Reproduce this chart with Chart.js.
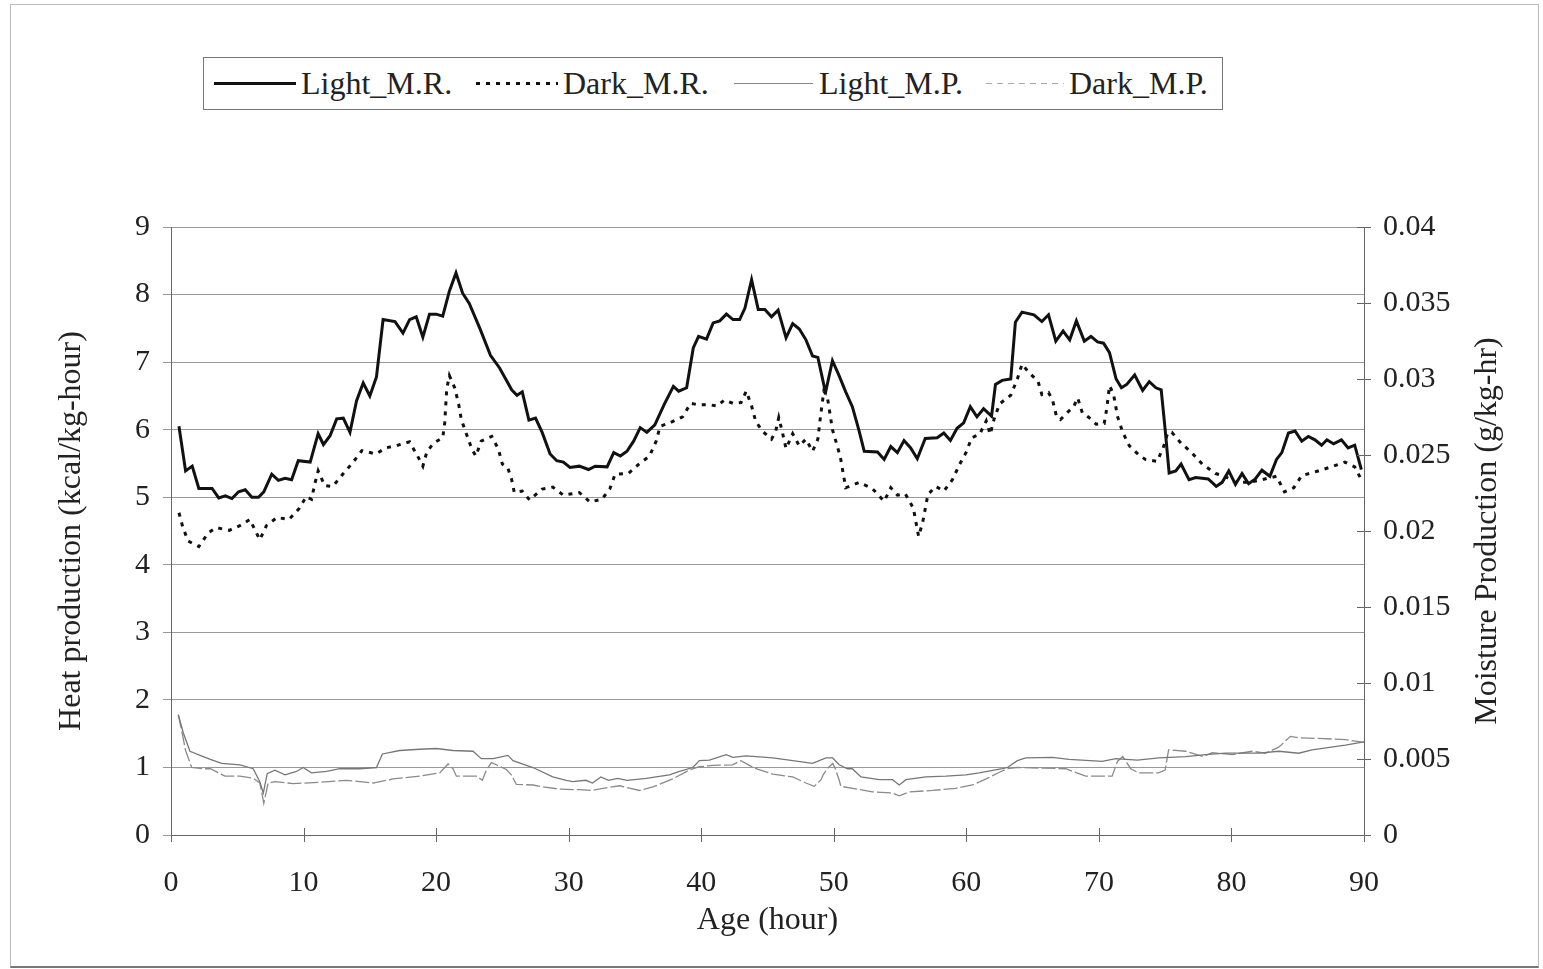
<!DOCTYPE html>
<html>
<head>
<meta charset="utf-8">
<script src="https://cdn.jsdelivr.net/npm/chart.js@4.4.1/dist/chart.umd.min.js"></script>
<style>
  body { margin: 0; background: #fff; }
  #wrap { position: relative; width: 1543px; height: 969px; }
  #frame { position: absolute; left: 10px; top: 4px; width: 1527px; height: 961px; border: 1px solid #bbb; border-bottom: 2px solid #777; }
  #legend { position: absolute; left: 203px; top: 57px; width: 1018px; height: 51px; border: 1px solid #777; background: #fff; }
  .sample { position: absolute; top: 25px; }
  .lbl { position: absolute; top: 6px; font: 32px "Liberation Serif", serif; color: #222; white-space: nowrap; line-height: 38px; }
</style>
</head>
<body>
<div id="wrap">
  <div id="frame"></div>
  <canvas id="myChart" width="1543" height="969"></canvas>
  <div id="legend">
    <div class="sample" style="left:10px;width:82px;height:3px;top:24px;background:#111"></div>
    <div class="lbl" style="left:97px">Light_M.R.</div>
    <div class="sample" style="left:272px;width:82px;height:3px;top:24px;background:repeating-linear-gradient(90deg,#111 0 4px,transparent 4px 10px)"></div>
    <div class="lbl" style="left:359px">Dark_M.R.</div>
    <div class="sample" style="left:530px;width:79px;height:1px;background:#888"></div>
    <div class="lbl" style="left:615px">Light_M.P.</div>
    <div class="sample" style="left:782px;width:78px;height:1px;background:repeating-linear-gradient(90deg,#aaa 0 6px,transparent 6px 11px)"></div>
    <div class="lbl" style="left:865px">Dark_M.P.</div>
  </div>
</div>
<script>
// metabolic rate (kcal/kg-hour), left axis
const lightMRHours = [0.6,1.1,1.6,2.1,3.1,3.6,4.1,4.6,5.1,5.6,6.1,6.6,7.0,7.6,8.1,8.6,9.1,9.6,10.5,11.1,11.5,12.0,12.5,13.0,13.5,14.0,14.5,15.0,15.5,16.0,16.9,17.5,18.0,18.5,19.0,19.5,20.0,20.5,21.0,21.5,22.0,22.5,23.3,24.1,24.8,25.7,26.1,26.5,27.0,27.5,28.0,28.6,29.1,29.6,30.1,30.8,31.5,32.0,32.9,33.4,33.9,34.4,34.9,35.4,35.9,36.5,37.2,37.9,38.3,38.9,39.4,39.8,40.4,40.9,41.4,41.9,42.4,42.9,43.3,43.8,44.3,44.8,45.3,45.8,46.4,46.9,47.4,47.9,48.4,48.8,49.3,49.4,49.9,50.4,50.9,51.4,51.9,52.3,53.3,53.8,54.3,54.8,55.3,55.8,56.3,56.9,57.8,58.3,58.8,59.3,59.8,60.3,60.8,61.3,61.9,62.2,62.7,63.35,63.7,64.2,65.1,65.7,66.2,66.75,67.3,67.8,68.3,68.9,69.4,69.9,70.35,70.8,71.3,71.7,72.1,72.7,73.3,73.8,74.3,74.7,75.0,75.3,75.8,76.2,76.8,77.3,78.25,78.85,79.3,79.8,80.3,80.8,81.3,81.8,82.3,82.9,83.4,83.8,84.3,84.8,85.3,85.8,86.3,86.8,87.2,87.7,88.3,88.8,89.3,89.8];
const lightMRValues = [6.05,5.39,5.46,5.13,5.13,4.99,5.02,4.98,5.08,5.11,5.00,5.00,5.08,5.34,5.25,5.28,5.26,5.54,5.52,5.94,5.78,5.91,6.16,6.17,5.96,6.43,6.69,6.50,6.78,7.63,7.60,7.43,7.63,7.67,7.37,7.71,7.71,7.68,8.05,8.32,8.02,7.87,7.50,7.10,6.91,6.59,6.51,6.56,6.14,6.17,5.96,5.64,5.54,5.52,5.44,5.46,5.41,5.46,5.45,5.66,5.61,5.68,5.83,6.03,5.96,6.07,6.37,6.64,6.57,6.62,7.21,7.38,7.34,7.58,7.61,7.71,7.63,7.63,7.80,8.22,7.78,7.78,7.67,7.77,7.36,7.57,7.49,7.33,7.09,7.07,6.62,6.57,7.02,6.80,6.56,6.34,5.99,5.68,5.67,5.56,5.75,5.66,5.84,5.73,5.57,5.87,5.88,5.95,5.84,6.02,6.10,6.34,6.19,6.31,6.20,6.67,6.73,6.75,7.59,7.74,7.70,7.60,7.70,7.31,7.46,7.33,7.61,7.31,7.38,7.30,7.28,7.14,6.75,6.62,6.67,6.81,6.58,6.71,6.62,6.59,6.00,5.36,5.39,5.49,5.26,5.29,5.27,5.16,5.22,5.39,5.19,5.35,5.20,5.27,5.40,5.31,5.56,5.66,5.95,5.98,5.83,5.90,5.85,5.77,5.85,5.79,5.85,5.73,5.77,5.41];

const darkMRHours = [0.6,0.9,1.3,2.1,2.8,3.4,4.4,5.2,5.95,6.5,6.7,7.2,8.0,8.9,9.7,10.2,10.6,10.85,11.1,11.6,12.2,13.0,13.7,14.4,15.45,16.2,17.1,18.0,18.6,19.0,19.3,19.8,20.5,20.65,20.8,21.0,21.4,21.7,21.9,22.3,22.7,23.0,23.4,24.2,24.7,25.0,25.4,25.7,25.9,26.5,27.05,28.0,28.8,29.6,30.8,31.6,32.5,33.1,33.5,34.5,35.3,36.1,36.6,36.9,37.6,38.6,39.2,39.7,40.6,41.2,41.75,42.4,43.0,43.4,43.8,44.1,44.6,45.3,45.6,45.85,46.1,46.4,46.9,47.4,47.9,48.4,48.8,49.0,49.25,49.5,49.7,49.9,50.2,50.5,50.9,51.9,52.9,53.8,54.3,54.8,55.4,56.0,56.4,56.7,57.1,57.7,58.3,58.95,59.5,60.0,60.4,61.0,61.5,61.8,62.1,62.5,63.35,63.85,64.2,64.7,65.4,65.7,66.2,66.5,66.8,67.1,67.6,68.1,68.4,68.75,69.25,69.8,70.4,70.6,70.8,71.1,71.4,71.8,72.3,73.0,73.5,74.4,74.9,75.2,75.5,76.2,77.0,77.8,78.8,79.4,80.3,81.3,82.3,83.4,84.0,84.7,85.3,86.4,87.55,88.55,89.3,89.8];
const darkMRValues = [4.77,4.55,4.35,4.27,4.47,4.55,4.51,4.58,4.67,4.45,4.37,4.58,4.70,4.67,4.84,5.01,4.97,5.20,5.39,5.17,5.16,5.35,5.51,5.69,5.64,5.73,5.77,5.82,5.61,5.46,5.67,5.80,5.88,6.10,6.60,6.80,6.62,6.38,6.15,5.93,5.71,5.61,5.83,5.90,5.71,5.49,5.44,5.26,5.07,5.09,4.96,5.12,5.15,5.03,5.07,4.93,4.97,5.12,5.34,5.35,5.49,5.61,5.83,6.05,6.10,6.19,6.39,6.37,6.37,6.35,6.44,6.39,6.40,6.57,6.35,6.13,5.98,5.86,5.96,6.18,5.98,5.72,5.94,5.76,5.86,5.68,5.86,6.20,6.57,6.50,6.25,6.00,5.80,5.59,5.14,5.22,5.13,4.94,5.14,5.03,5.05,4.84,4.42,4.62,5.04,5.16,5.09,5.26,5.49,5.67,5.88,5.93,6.13,5.93,6.16,6.38,6.51,6.75,6.97,6.85,6.72,6.52,6.55,6.44,6.20,6.15,6.25,6.34,6.47,6.25,6.18,6.08,6.09,6.32,6.65,6.53,6.20,5.96,5.76,5.63,5.56,5.53,5.76,5.96,5.96,5.80,5.66,5.49,5.35,5.32,5.22,5.22,5.26,5.31,5.08,5.14,5.32,5.38,5.45,5.52,5.45,5.26];

// moisture production (g/kg-hr), right axis
const lightMPHours = [0.55,0.93,1.43,2.43,2.97,3.82,5.2,6.2,6.7,6.96,7.26,7.84,8.6,9.47,9.97,10.6,11.73,12.74,14.24,15.5,15.95,17.26,18.76,20.02,21.27,22.78,23.41,24.29,25.42,25.8,27.3,28.8,29.82,30.3,31.3,31.8,32.43,33.0,33.7,34.4,35.85,37.6,38.36,39.36,39.86,40.62,41.88,42.4,43.38,45.4,46.9,48.4,49.41,49.91,50.41,51.04,51.4,52.05,53.43,54.43,54.94,55.44,56.95,58.46,59.96,60.97,62.7,63.1,63.85,64.48,66.5,67.75,70.26,71.26,72.9,74.53,76.54,78.05,79.56,82.07,83.57,85.08,86.08,88.6,90.0];
const lightMPValues = [0.00791,0.00671,0.00551,0.00516,0.00498,0.00471,0.00462,0.00436,0.00351,0.00276,0.00404,0.00427,0.00396,0.00418,0.00444,0.00409,0.00418,0.00436,0.00436,0.00444,0.00533,0.00556,0.00564,0.00569,0.00556,0.00551,0.00502,0.00502,0.00524,0.00489,0.00444,0.00382,0.0036,0.00351,0.0036,0.00342,0.00382,0.0036,0.00373,0.0036,0.00373,0.00396,0.00418,0.00444,0.00489,0.00493,0.00529,0.00511,0.0052,0.00507,0.00489,0.00471,0.00507,0.00507,0.00462,0.00436,0.00436,0.00382,0.00364,0.00364,0.00329,0.00364,0.00382,0.00387,0.00396,0.00409,0.00436,0.00444,0.00489,0.00507,0.00511,0.00498,0.00484,0.00502,0.00493,0.00507,0.00516,0.00529,0.00538,0.00538,0.00551,0.00538,0.0056,0.00591,0.00613];

const darkMPHours = [0.55,0.8,1.1,1.56,2.43,2.97,4.07,5.2,6.2,6.7,7.0,7.33,7.84,9.22,11.23,13.24,15.25,16.75,18.76,20.27,20.9,21.27,21.53,23.04,23.49,23.79,24.17,24.54,25.3,25.67,26.05,27.3,28.06,29.3,30.8,31.8,32.58,33.84,35.34,36.35,37.86,39.1,39.86,40.87,42.37,43.0,43.63,44.13,45.4,46.9,47.9,48.53,49.04,49.2,49.55,49.92,50.1,50.36,50.54,51.42,52.92,54.43,54.94,55.69,57.45,59.2,60.45,61.5,62.5,63.1,63.8,65.9,67.5,69.0,71.0,71.4,71.8,72.4,73.0,74.5,75.0,75.26,76.54,77.9,78.55,80.06,81.57,82.57,83.57,84.45,85.08,87.7,88.6,90.0];
const darkMPValues = [0.00791,0.00689,0.00556,0.00444,0.00436,0.00436,0.00387,0.00387,0.00373,0.00342,0.00209,0.00342,0.00351,0.00338,0.00347,0.0036,0.00342,0.00369,0.00387,0.00409,0.00467,0.00436,0.00387,0.00387,0.0036,0.00427,0.00476,0.00462,0.00431,0.00396,0.00333,0.00329,0.00316,0.00302,0.00298,0.00293,0.00307,0.00324,0.00293,0.00316,0.00369,0.00427,0.00449,0.00458,0.00462,0.00489,0.00458,0.00436,0.004,0.00382,0.00342,0.0032,0.00364,0.00396,0.0044,0.00471,0.0044,0.00373,0.0032,0.00307,0.00284,0.00276,0.00258,0.00284,0.00293,0.00307,0.00329,0.00369,0.00413,0.00436,0.00444,0.0044,0.00436,0.00387,0.00387,0.00484,0.00516,0.00436,0.00409,0.00409,0.00427,0.0056,0.00551,0.00516,0.00542,0.00529,0.00551,0.00538,0.00578,0.00649,0.0064,0.00631,0.00627,0.00609];

function pairs(hours, values) {
  return hours.map((h, i) => ({ x: h, y: values[i] }));
}

const textColor = "#222";
const tickFont = { family: "Liberation Serif", size: 30 };
const titleFont = { family: "Liberation Serif", size: 32 };

// tick marks that cross the x axis and the right axis, plus the right title (reads bottom-to-top)
const extras = {
  id: "extras",
  afterDraw(chart) {
    const ctx = chart.ctx;
    const x = chart.scales.x, yR = chart.scales.y1;
    const area = chart.chartArea;
    ctx.save();
    ctx.strokeStyle = "#666";
    ctx.lineWidth = 1;
    ctx.beginPath();
    x.ticks.forEach(t => {
      const px = Math.round(x.getPixelForValue(t.value)) + 0.5;
      ctx.moveTo(px, area.bottom - 7);
      ctx.lineTo(px, area.bottom + 7);
    });
    yR.ticks.forEach(t => {
      const py = Math.round(yR.getPixelForValue(t.value)) + 0.5;
      ctx.moveTo(area.right - 7, py);
      ctx.lineTo(area.right + 7, py);
    });
    ctx.stroke();

    ctx.fillStyle = textColor;
    ctx.font = '32px "Liberation Serif"';
    ctx.textAlign = "center";
    ctx.textBaseline = "alphabetic";
    ctx.translate(1496, (area.top + area.bottom) / 2);
    ctx.rotate(-Math.PI / 2);
    ctx.fillText("Moisture Production (g/kg-hr)", 0, 0);
    ctx.restore();
  }
};

new Chart(document.getElementById("myChart"), {
  type: "line",
  data: {
    datasets: [
      {
        label: "Light_M.R.",
        data: pairs(lightMRHours, lightMRValues),
        yAxisID: "y",
        borderColor: "#111",
        borderWidth: 3,
        pointRadius: 0,
        order: 1
      },
      {
        label: "Dark_M.R.",
        data: pairs(darkMRHours, darkMRValues),
        yAxisID: "y",
        borderColor: "#111",
        borderWidth: 3,
        borderDash: [4, 6],
        pointRadius: 0,
        order: 2
      },
      {
        label: "Light_M.P.",
        data: pairs(lightMPHours, lightMPValues),
        yAxisID: "y1",
        borderColor: "#777",
        borderWidth: 1.3,
        pointRadius: 0,
        order: 3
      },
      {
        label: "Dark_M.P.",
        data: pairs(darkMPHours, darkMPValues),
        yAxisID: "y1",
        borderColor: "#8a8a8a",
        borderWidth: 1.3,
        borderDash: [14, 3],
        pointRadius: 0,
        order: 4
      }
    ]
  },
  options: {
    responsive: false,
    animation: false,
    layout: { padding: { top: 227, left: 0, right: 0, bottom: 0 } },
    plugins: {
      legend: { display: false },
      tooltip: { enabled: false }
    },
    scales: {
      x: {
        type: "linear",
        min: 0,
        max: 90,
        ticks: { stepSize: 10, color: textColor, font: tickFont, padding: 30, maxRotation: 0 },
        grid: { display: false, drawTicks: false },
        border: { display: true, color: "#666" },
        title: { display: true, text: "Age (hour)", color: textColor, font: titleFont, padding: { top: 0, bottom: 29 } },
        afterFit(scale) { scale.height = 134; }
      },
      y: {
        position: "left",
        min: 0,
        max: 9,
        ticks: { stepSize: 1, color: textColor, font: tickFont, padding: 13 },
        grid: { color: "#999", tickLength: 8, lineWidth: 1 },
        border: { display: true, color: "#666" },
        title: { display: true, text: "Heat production (kcal/kg-hour)", color: textColor, font: titleFont, padding: { top: 52, bottom: 0 } },
        afterFit(scale) { scale.width = 171; }
      },
      y1: {
        position: "right",
        min: 0,
        max: 0.04,
        ticks: {
          stepSize: 0.005,
          color: textColor,
          font: tickFont,
          padding: 19,
          callback: v => String(+v.toFixed(3))
        },
        grid: { display: false, drawOnChartArea: false, drawTicks: false },
        border: { display: true, color: "#666" },
        afterFit(scale) { scale.width = 179; }
      }
    }
  },
  plugins: [extras]
});
</script>
</body>
</html>
